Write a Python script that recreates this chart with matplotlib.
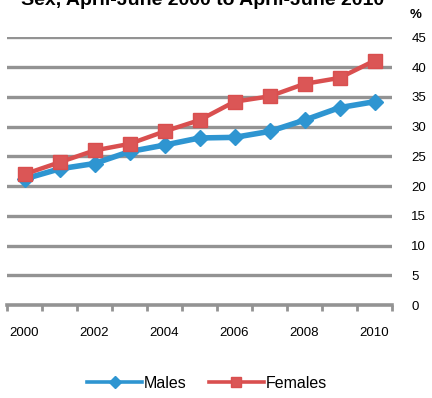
import matplotlib
matplotlib.use("Agg")
import matplotlib.pyplot as plt
import numpy as np

plt.rcParams['font.family'] = ['Liberation Sans', 'DejaVu Sans']

years = [2000, 2001, 2002, 2003, 2004, 2005, 2006, 2007, 2008, 2009, 2010]
males = [21.2, 22.9, 23.8, 25.8, 26.9, 28.1, 28.2, 29.2, 31.1, 33.2, 34.2]
females = [22.0, 24.0, 26.0, 27.1, 29.2, 31.1, 34.2, 35.1, 37.2, 38.2, 41.1]
year_labels = ['2000', '', '2002', '', '2004', '', '2006', '', '2008', '', '2010']
y_ticks = [0, 5, 10, 15, 20, 25, 30, 35, 40, 45]

blue = '#2E95D1'
red = '#D94F4F'
grid_gray = '#939393'

fig = plt.figure(figsize=(4.32, 3.98), dpi=100)
ax = fig.add_axes([7 / 432, 93 / 398, 385 / 432, (305 - 37.5) / 398])

x = np.arange(len(years))
ax.plot(x, males, color=blue, lw=4, marker='D', ms=8.5, mfc=blue, mec=blue,
        label='Males', zorder=3)
ax.plot(x, females, color=red, lw=3.2, marker='s', ms=10.5, mfc='#DB5656', mec=red,
        label='Females', zorder=4)

ax.set_xlim(-0.5, len(years) - 0.5)
ax.set_ylim(0, 45)
ax.set_yticks(y_ticks)
for v in y_ticks[1:]:
    ax.axhline(v, color=grid_gray, lw=2.4, zorder=1)

for s in ['top', 'left', 'right']:
    ax.spines[s].set_visible(False)
ax.spines['bottom'].set_color(grid_gray)
ax.spines['bottom'].set_linewidth(2.6)

ax.yaxis.tick_right()
ax.tick_params(axis='y', length=0, pad=14, labelsize=9.5, colors='black')
ax.set_xticks(x)
ax.set_xticklabels(year_labels)
ax.set_xticks(np.arange(-0.5, len(years)), minor=True)
ax.tick_params(axis='x', which='major', length=0, pad=16, labelsize=9.5)
ax.tick_params(axis='x', which='minor', length=4, width=2, color=grid_gray, direction='out')

fig.text(0.47, 1 - 5 / 398, 'Sex, April-June 2000 to April-June 2010',
         ha='center', va='baseline', fontsize=14, fontweight='bold')
fig.text(416 / 432, 1 - 18 / 398, '%', ha='center', va='baseline',
         fontsize=9.5, fontweight='bold')

leg = fig.legend(loc='center', bbox_to_anchor=(0.48, 1 - 383 / 398), ncol=2,
                 frameon=False, fontsize=11.5, handlelength=3.4, columnspacing=1.4,
                 handletextpad=0.15, markerscale=0.75)
for h in leg.get_lines():
    h.set_linewidth(2.6)

fig.savefig('out.png', dpi=100)
